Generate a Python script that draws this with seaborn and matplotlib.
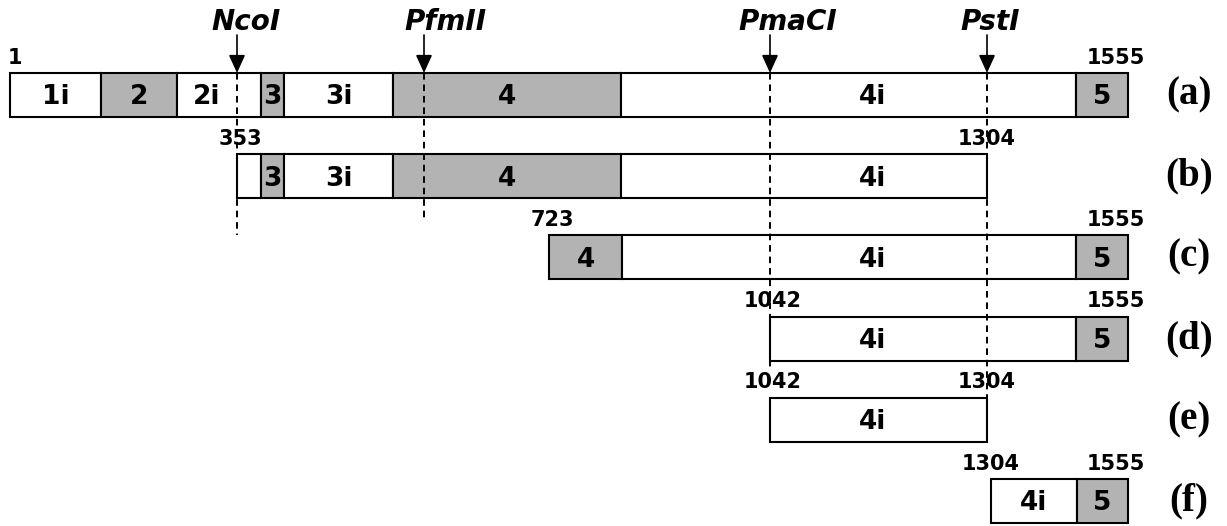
import numpy as np
import pandas as pd
import matplotlib
matplotlib.use("Agg")
import matplotlib.pyplot as plt
import seaborn as sns

# ---------------- data (schematic map, not drawn to scale) ----------------
row_names = ["(a)", "(b)", "(c)", "(d)", "(e)", "(f)"]

seg_row   = [0, 0, 0, 0, 0, 0, 0, 0,   1, 1, 1, 1, 1,   2, 2, 2,   3, 3,   4,   5, 5]
seg_start = [10, 101, 177, 260.5, 284, 393, 621, 1076,
             237, 260.5, 284, 393, 621,
             549, 622, 1076,
             770, 1076,
             770,
             991, 1077]
seg_end   = [101, 177, 260.5, 284, 393, 621, 1076, 1128,
             260.5, 284, 393, 621, 987,
             622, 1076, 1128,
             1076, 1128,
             987,
             1077, 1128]
seg_label = ["1i", "2", "2i", "3", "3i", "4", "4i", "5",
             "", "3", "3i", "4", "4i",
             "4", "4i", "5",
             "4i", "5",
             "4i",
             "4i", "5"]
seg_exon  = [0, 1, 0, 1, 0, 1, 0, 1,
             0, 1, 0, 1, 0,
             1, 0, 1,
             0, 1,
             0,
             0, 1]

# boundary numbers (nt positions) shown above each construct
num_row  = [0, 0, 1, 1, 2, 2, 3, 3, 4, 4, 5, 5]
num_x    = [10, 1128, 237, 987, 549, 1128, 770, 1128, 770, 987, 991, 1128]
num_text = ["1", "1555", "353", "1304", "723", "1555",
            "1042", "1555", "1042", "1304", "1304", "1555"]

# restriction sites
enzyme_names = ["NcoI", "PfmII", "PmaCI", "PstI"]
enzyme_x     = [237, 424, 770, 987]
enzyme_depth = [235, 220, 368, 398]     # where each dashed guide stops (px)

# ---------------- style / layout ----------------
sns.set_theme(style="white")
plt.rcParams["font.family"] = ["DejaVu Sans"]
plt.rcParams["text.color"] = "black"

GREY = "#b3b3b3"
ROW0_PX, ROW_STEP = 95.0, 81.2           # pixel centre of first row, row spacing
BOX_H = 44.0 / ROW_STEP                  # box height in row units
px = lambda p: (p - ROW0_PX) / ROW_STEP  # pixel-y -> row units

seg = pd.DataFrame(dict(row=seg_row, start=seg_start, end=seg_end,
                        label=seg_label, exon=seg_exon))
seg["width"] = seg["end"] - seg["start"]

fig = plt.figure(figsize=(12.27, 5.26), dpi=100)
ax = fig.add_axes([0, 0, 1, 1])
ax.set_xlim(0, 1227)
ax.set_ylim(px(526), px(0))
ax.axis("off")

# boxes
ax.barh(seg["row"], seg["width"], left=seg["start"], height=BOX_H,
        color=[GREY if e else "white" for e in seg["exon"]],
        edgecolor="black", linewidth=1.5, zorder=2)

# segment labels
for _, r in seg.iterrows():
    if not r["label"]:
        continue
    cx = (r["start"] + r["end"]) / 2
    if r["label"] == "4i" and r["width"] > 150:
        cx = 873
    elif r["label"] == "2i":
        cx = 207
    ax.text(cx, r["row"] + 0.03, r["label"], ha="center", va="center",
            fontsize=19, fontweight="bold", color="black", zorder=4)

# dashed guides and arrows
for name, x, d in zip(enzyme_names, enzyme_x, enzyme_depth):
    ax.plot([x, x], [px(73), px(d)], color="black", lw=1.4,
            ls=(0, (3.4, 2.5)), zorder=3)
    ax.annotate("", xy=(x, px(73)), xytext=(x, px(35)),
                arrowprops=dict(arrowstyle="-|>,head_length=1.1,head_width=0.5",
                                color="black", lw=1.2, shrinkA=0, shrinkB=0,
                                mutation_scale=10), zorder=4)

enzyme_text_dx = [9, 21, 18, 3]
for name, x, dx in zip(enzyme_names, enzyme_x, enzyme_text_dx):
    ax.text(x + dx, px(22), name, ha="center", va="center", fontsize=20,
            fontweight="bold", fontstyle="italic", color="black", zorder=4)

# boundary numbers
for r, x, t in zip(num_row, num_x, num_text):
    y = r - BOX_H / 2 - 15.5 / ROW_STEP
    kw = dict(va="center", fontsize=15, fontweight="bold", color="black", zorder=5)
    if t == "1":
        ax.text(x - 2, y, t, ha="left", **kw)
    elif t == "1555":
        ax.text(x - 12, y, t, ha="center", **kw)
    elif t == "1304":
        ax.text(x, y, t, ha="center", **kw)
    else:
        ax.text(x + 3, y, t, ha="center", **kw)

# row letters
for i, name in enumerate(row_names):
    ax.text(1189, i, name, ha="center", va="center", fontsize=28,
            fontweight="bold", color="black",
            family=["Liberation Serif", "DejaVu Serif"])

fig.savefig("out.png", dpi=100)
